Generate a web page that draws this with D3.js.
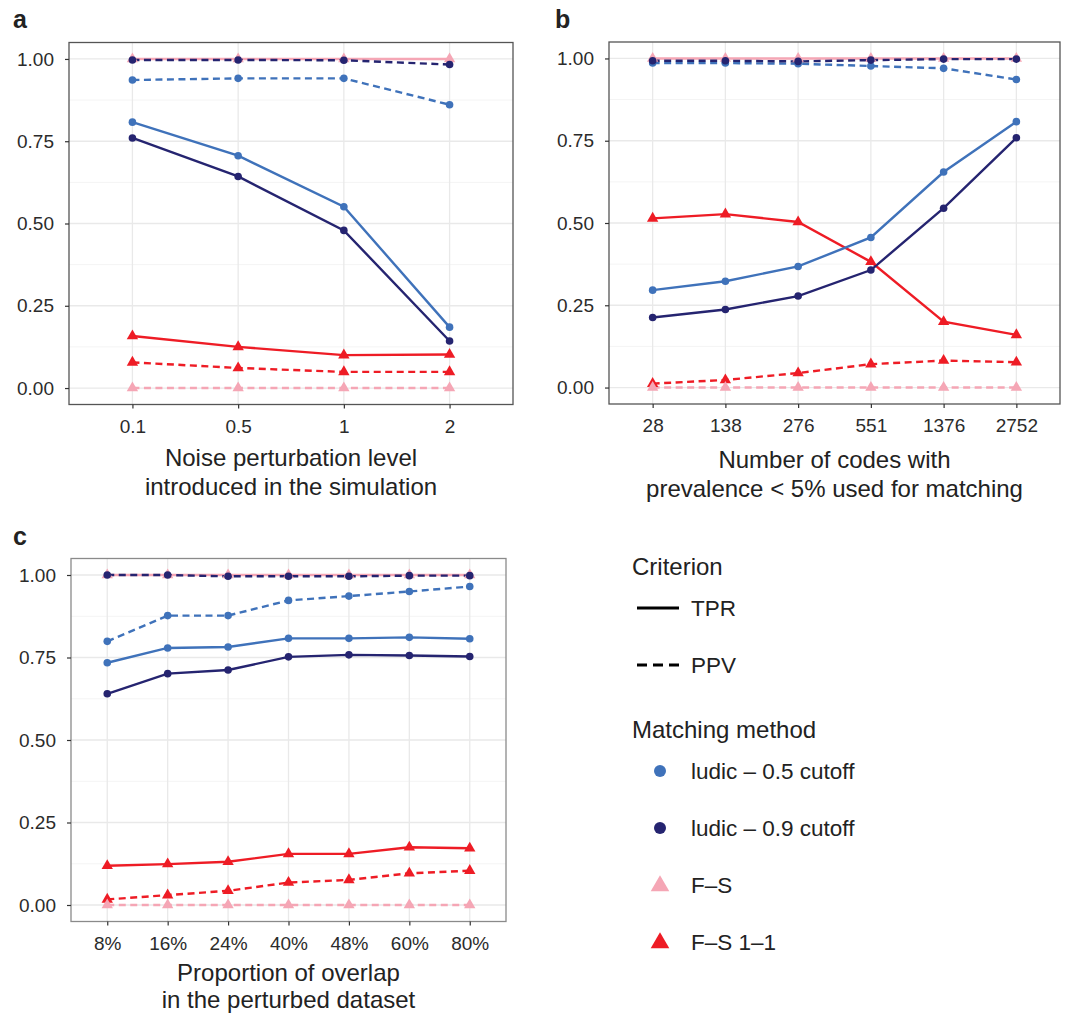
<!DOCTYPE html>
<meta charset="utf-8">
<script src="https://d3js.org/d3.v7.min.js"></script>
<style>
  body { margin: 0; background: #fff; }
  svg text { font-family: "Liberation Sans", Arial, Helvetica, sans-serif; }
</style>
<div id="chart"></div>
<script>

// categories on the x axes
const noiseLevels = ["0.1", "0.5", "1", "2"];
const codeCounts = ["28", "138", "276", "551", "1376", "2752"];
const overlapProps = ["8%", "16%", "24%", "40%", "48%", "60%", "80%"];

const methods = ["ludic – 0.5 cutoff", "ludic – 0.9 cutoff", "F–S", "F–S 1–1"];
const criteria = ["TPR", "PPV"];
const yTicks = [0, 0.25, 0.5, 0.75, 1];

// panel a : noise perturbation
const a_ludic05_tpr = [0.808, 0.706, 0.551, 0.185];
const a_ludic05_ppv = [0.936, 0.941, 0.941, 0.861];
const a_ludic09_tpr = [0.760, 0.643, 0.479, 0.143];
const a_ludic09_ppv = [0.997, 0.997, 0.996, 0.983];
const a_fs_tpr      = [1, 1, 1, 1];
const a_fs_ppv      = [0, 0, 0, 0];
const a_fs11_tpr    = [0.158, 0.125, 0.100, 0.102];
const a_fs11_ppv    = [0.078, 0.061, 0.049, 0.049];

// panel b : number of codes
const b_ludic05_tpr = [0.296, 0.323, 0.368, 0.456, 0.655, 0.808];
const b_ludic05_ppv = [0.986, 0.986, 0.984, 0.977, 0.970, 0.936];
const b_ludic09_tpr = [0.213, 0.237, 0.278, 0.357, 0.545, 0.759];
const b_ludic09_ppv = [0.993, 0.993, 0.991, 0.995, 0.998, 0.998];
const b_fs_tpr      = [1, 1, 1, 1, 1, 1];
const b_fs_ppv      = [0, 0, 0, 0, 0, 0];
const b_fs11_tpr    = [0.514, 0.527, 0.503, 0.382, 0.200, 0.160];
const b_fs11_ppv    = [0.012, 0.023, 0.044, 0.071, 0.082, 0.077];

// panel c : proportion of overlap
const c_ludic05_tpr = [0.734, 0.779, 0.782, 0.808, 0.808, 0.811, 0.807];
const c_ludic05_ppv = [0.799, 0.877, 0.877, 0.923, 0.936, 0.950, 0.965];
const c_ludic09_tpr = [0.640, 0.701, 0.712, 0.752, 0.758, 0.756, 0.753];
const c_ludic09_ppv = [1.0, 1.0, 0.996, 0.996, 0.996, 0.998, 0.998];
const c_fs_tpr      = [1, 1, 1, 1, 1, 1, 1];
const c_fs_ppv      = [0, 0, 0, 0, 0, 0, 0];
const c_fs11_tpr    = [0.119, 0.124, 0.131, 0.155, 0.155, 0.175, 0.172];
const c_fs11_ppv    = [0.017, 0.030, 0.043, 0.068, 0.076, 0.096, 0.104];

const color = d3.scaleOrdinal().domain(methods)
  .range(["#3f72ba", "#252470", "#f5a6b5", "#ee1c25"]);
const shape = d3.scaleOrdinal().domain(methods)
  .range(["circle", "circle", "triangle", "triangle"]);
const dash = d3.scaleOrdinal().domain(criteria).range([null, "7,4.5"]);

function seriesOf(tpr05, ppv05, tpr09, ppv09, tprfs, ppvfs, tpr11, ppv11) {
  return [
    {method: methods[3], crit: "TPR", values: tpr11},
    {method: methods[3], crit: "PPV", values: ppv11},
    {method: methods[2], crit: "TPR", values: tprfs},
    {method: methods[2], crit: "PPV", values: ppvfs},
    {method: methods[0], crit: "TPR", values: tpr05},
    {method: methods[0], crit: "PPV", values: ppv05},
    {method: methods[1], crit: "TPR", values: tpr09},
    {method: methods[1], crit: "PPV", values: ppv09}
  ];
}

const panels = [
  {letter: "a", cats: noiseLevels,
   title: ["Noise perturbation level", "introduced in the simulation"],
   series: seriesOf(a_ludic05_tpr, a_ludic05_ppv, a_ludic09_tpr, a_ludic09_ppv,
                    a_fs_tpr, a_fs_ppv, a_fs11_tpr, a_fs11_ppv),
   box: {left: 69, right: 513, top: 42.5, bottom: 404.5}, border: "#555",
   letterPos: [13, 28], titleY: [466, 495]},
  {letter: "b", cats: codeCounts,
   title: ["Number of codes with", "prevalence < 5% used for matching"],
   series: seriesOf(b_ludic05_tpr, b_ludic05_ppv, b_ludic09_tpr, b_ludic09_ppv,
                    b_fs_tpr, b_fs_ppv, b_fs11_tpr, b_fs11_ppv),
   box: {left: 609, right: 1060, top: 42, bottom: 404}, border: "#555",
   letterPos: [555, 28], titleY: [468, 497]},
  {letter: "c", cats: overlapProps,
   title: ["Proportion of overlap", "in the perturbed dataset"],
   series: seriesOf(c_ludic05_tpr, c_ludic05_ppv, c_ludic09_tpr, c_ludic09_ppv,
                    c_fs_tpr, c_fs_ppv, c_fs11_tpr, c_fs11_ppv),
   box: {left: 71, right: 506, top: 558.5, bottom: 921.5}, border: "#8a8a8a",
   letterPos: [13, 545], titleY: [981, 1008]}
];

const svg = d3.select("#chart").append("svg")
  .attr("width", 1066).attr("height", 1013);

function drawMarker(sel, method, cx, cy) {
  if (shape(method) === "circle") {
    sel.append("circle").attr("cx", cx).attr("cy", cy).attr("r", 3.8)
      .attr("fill", color(method));
  } else {
    sel.append("path")
      .attr("d", d3.symbol(d3.symbolTriangle, 56)())
      .attr("transform", `translate(${cx},${cy})`)
      .attr("fill", color(method));
  }
}

panels.forEach(p => {
  const b = p.box;
  const x = d3.scalePoint().domain(p.cats).range([b.left, b.right]).padding(0.6);
  const y = d3.scaleLinear().domain([-0.05, 1.05]).range([b.bottom, b.top]);
  const g = svg.append("g");

  // minor and major grid
  const minor = d3.range(0, 4).map(i => 0.125 + i * 0.25);
  g.selectAll(".minor").data(minor).join("line")
    .attr("x1", b.left).attr("x2", b.right)
    .attr("y1", d => y(d)).attr("y2", d => y(d))
    .attr("stroke", "#f4f4f4").attr("stroke-width", 1);
  g.selectAll(".majorY").data(yTicks).join("line")
    .attr("x1", b.left).attr("x2", b.right)
    .attr("y1", d => y(d)).attr("y2", d => y(d))
    .attr("stroke", "#e9e9e9").attr("stroke-width", 1.3);
  g.selectAll(".majorX").data(p.cats).join("line")
    .attr("x1", d => x(d)).attr("x2", d => x(d))
    .attr("y1", b.top).attr("y2", b.bottom)
    .attr("stroke", "#e9e9e9").attr("stroke-width", 1.3);

  // lines
  const line = d3.line().x((v, i) => x(p.cats[i])).y(v => y(v));
  g.selectAll(".series").data(p.series).join("path")
    .attr("d", s => line(s.values))
    .attr("fill", "none")
    .attr("stroke", s => color(s.method))
    .attr("stroke-width", 2.4)
    .attr("stroke-dasharray", s => dash(s.crit));

  // points
  p.series.forEach(s => {
    s.values.forEach((v, i) => drawMarker(g, s.method, x(p.cats[i]), y(v)));
  });

  // border
  g.append("rect")
    .attr("x", b.left).attr("y", b.top)
    .attr("width", b.right - b.left).attr("height", b.bottom - b.top)
    .attr("fill", "none").attr("stroke", p.border).attr("stroke-width", 1.3);

  // axes
  const yAxis = g.append("g").attr("transform", `translate(${b.left},0)`)
    .call(d3.axisLeft(y).tickValues(yTicks).tickFormat(d3.format(".2f"))
      .tickSize(4).tickPadding(11));
  const xAxis = g.append("g").attr("transform", `translate(0,${b.bottom})`)
    .call(d3.axisBottom(x).tickSize(4).tickPadding(11));
  [yAxis, xAxis].forEach(ax => {
    ax.select(".domain").remove();
    ax.selectAll(".tick line").attr("stroke", "#333").attr("stroke-width", 1.2);
    ax.selectAll(".tick text").attr("fill", "#2b2b2b").attr("font-size", 19);
  });

  // axis title
  g.selectAll(".xtitle").data(p.title).join("text")
    .attr("x", (b.left + b.right) / 2)
    .attr("y", (d, i) => p.titleY[i])
    .attr("text-anchor", "middle")
    .attr("font-size", 24).attr("fill", "#222")
    .text(d => d);

  // panel letter
  g.append("text").attr("x", p.letterPos[0]).attr("y", p.letterPos[1])
    .attr("font-size", 25).attr("font-weight", "bold").attr("fill", "#222")
    .text(p.letter);
});

// legend
const leg = svg.append("g");
leg.append("text").attr("x", 632).attr("y", 575)
  .attr("font-size", 24).attr("fill", "#222").text("Criterion");
criteria.forEach((c, i) => {
  const cy = 608 + i * 57;
  leg.append("line").attr("x1", 637).attr("x2", 679).attr("y1", cy).attr("y2", cy)
    .attr("stroke", "#000").attr("stroke-width", 3.2)
    .attr("stroke-dasharray", c === "PPV" ? "10,6" : null);
  leg.append("text").attr("x", 691).attr("y", cy).attr("dy", "0.35em")
    .attr("font-size", 22.5).attr("fill", "#222").text(c);
});
leg.append("text").attr("x", 632).attr("y", 738)
  .attr("font-size", 24).attr("fill", "#222").text("Matching method");
methods.forEach((m, i) => {
  const cy = 771 + i * 57;
  if (shape(m) === "circle") {
    leg.append("circle").attr("cx", 660).attr("cy", cy).attr("r", 6)
      .attr("fill", color(m));
  } else {
    leg.append("path").attr("d", d3.symbol(d3.symbolTriangle, 150)())
      .attr("transform", `translate(660,${cy + 1})`).attr("fill", color(m));
  }
  leg.append("text").attr("x", 691).attr("y", cy).attr("dy", "0.35em")
    .attr("font-size", 22.5).attr("fill", "#222").text(m);
});
</script>
